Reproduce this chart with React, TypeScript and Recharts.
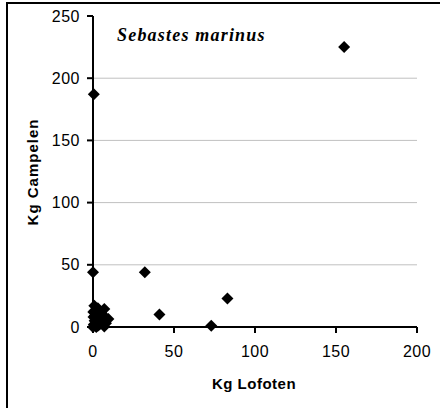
import React from "react";
import {
  ScatterChart,
  Scatter,
  XAxis,
  YAxis,
  CartesianGrid,
} from "recharts";

// Kg Lofoten (x) vs Kg Campelen (y)
const lofoten = [
  0, 0.5, 1, 0.3, 1.5, 0.8, 2, 3, 4, 3, 5, 7, 6, 9.5, 7, 4, 2, 5, 1, 3, 6, 8, 0.2, 2.5,
  1.2, 4.5, 6.5, 2, 0.5, 0, 32, 41, 73, 83, 155,
];
const campelen = [
  0, 2, 5, 8, 11, 17, 3, 1, 6, 9, 12, 14.5, 8, 6.5, 0.5, 2, 0, 4, 13, 15, 10, 3, 12, 7,
  9, 10, 4, 14, 187, 44, 44, 10, 1, 23, 225,
];

const xTicks = [0, 50, 100, 150, 200];
const yTicks = [0, 50, 100, 150, 200, 250];
const gridValues = [50, 100, 150, 200];

const points = lofoten.map((x, i) => ({ x, y: campelen[i] }));

const tickStyle = {
  fontFamily: "'Liberation Sans', Arial, sans-serif",
  fontSize: 16,
  fill: "#000",
  letterSpacing: 0.5,
};

const Diamond = (props: any) => {
  const { cx, cy } = props;
  const r = 6;
  return (
    <path
      d={`M${cx},${cy - r}L${cx + r},${cy}L${cx},${cy + r}L${cx - r},${cy}Z`}
      fill="#000"
    />
  );
};

export default function App() {
  return (
    <div
      style={{
        position: "absolute",
        left: 0,
        top: 0,
        width: 440,
        height: 408,
        overflow: "hidden",
        background: "#fff",
      }}
    >
      <div
        style={{
          position: "absolute",
          left: 6,
          top: 2,
          width: 460,
          height: 430,
          border: "2px solid #000",
          boxSizing: "border-box",
        }}
      />
      <ScatterChart
        width={440}
        height={408}
        margin={{ top: 16, right: 23, bottom: 21, left: 0 }}
        style={{ position: "absolute", left: 0, top: 0 }}
      >
        <CartesianGrid
          vertical={false}
          horizontalValues={gridValues}
          stroke="#c0c0c0"
          strokeWidth={1}
        />
        <XAxis
          type="number"
          dataKey="x"
          domain={[0, 200]}
          ticks={xTicks}
          height={60}
          tickSize={6}
          tickMargin={13}
          tick={tickStyle}
          axisLine={{ stroke: "#000", strokeWidth: 2 }}
          tickLine={{ stroke: "#000", strokeWidth: 2 }}
        />
        <YAxis
          type="number"
          dataKey="y"
          domain={[0, 250]}
          ticks={yTicks}
          width={93}
          tickSize={6}
          tickMargin={7}
          tick={tickStyle}
          axisLine={{ stroke: "#000", strokeWidth: 2 }}
          tickLine={{ stroke: "#000", strokeWidth: 2 }}
        />
        <Scatter data={points} shape={<Diamond />} isAnimationActive={false} />
      </ScatterChart>
      <svg
        width={440}
        height={408}
        style={{ position: "absolute", left: 0, top: 0, pointerEvents: "none" }}
      >
        <text
          x={117}
          y={41}
          fontFamily="'Liberation Serif', 'Times New Roman', serif"
          fontSize={18}
          fontWeight="bold"
          fontStyle="italic"
          letterSpacing={1.2}
          fill="#000"
        >
          Sebastes marinus
        </text>
        <text
          x={254}
          y={389}
          textAnchor="middle"
          fontFamily="'Liberation Sans', Arial, sans-serif"
          fontSize={15}
          fontWeight="bold"
          letterSpacing={0.5}
          fill="#000"
        >
          Kg Lofoten
        </text>
        <text
          transform="translate(38,172) rotate(-90)"
          textAnchor="middle"
          fontFamily="'Liberation Sans', Arial, sans-serif"
          fontSize={15}
          fontWeight="bold"
          letterSpacing={1}
          fill="#000"
        >
          Kg Campelen
        </text>
      </svg>
    </div>
  );
}
